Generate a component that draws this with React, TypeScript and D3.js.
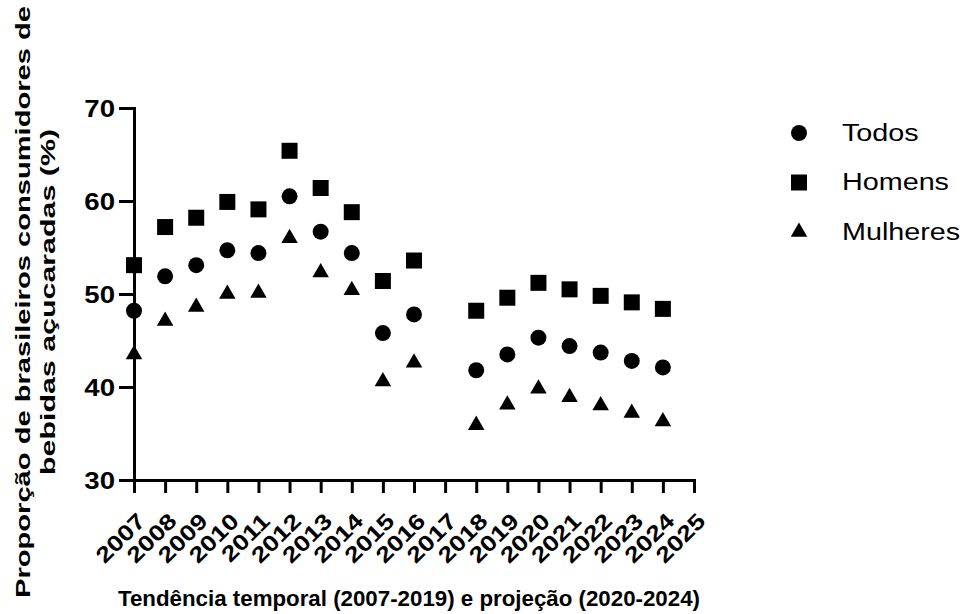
import React, { useRef, useEffect } from 'react';
import * as d3 from 'd3';

const years = [2007, 2008, 2009, 2010, 2011, 2012, 2013, 2014, 2015, 2016, 2018, 2019, 2020, 2021, 2022, 2023, 2024];
const todos = [48.2, 51.9, 53.1, 54.7, 54.4, 60.5, 56.7, 54.4, 45.8, 47.8, 41.8, 43.5, 45.3, 44.4, 43.7, 42.8, 42.1];
const homens = [53.1, 57.2, 58.2, 59.9, 59.1, 65.4, 61.4, 58.8, 51.4, 53.6, 48.2, 49.6, 51.2, 50.5, 49.8, 49.1, 48.4];
const mulheres = [43.5, 47.1, 48.6, 50.0, 50.1, 56.0, 52.3, 50.4, 40.6, 42.6, 35.9, 38.1, 39.8, 38.9, 38.0, 37.2, 36.3];

const xTicks = ['2007', '2008', '2009', '2010', '2011', '2012', '2013', '2014', '2015', '2016', '2017', '2018', '2019', '2020', '2021', '2022', '2023', '2024', '2025'];
const yTicks = [30, 40, 50, 60, 70];
const seriesNames = ['Todos', 'Homens', 'Mulheres'];

const FONT = 'Arial, "Liberation Sans", Helvetica, sans-serif';

const App = () => {
  const ref = useRef<SVGSVGElement>(null);

  useEffect(() => {
    const svg = d3.select(ref.current);
    svg.selectAll('*').remove();

    const x = d3.scaleLinear().domain([+xTicks[0], +xTicks[xTicks.length - 1]]).range([134, 694]);
    const y = d3.scaleLinear().domain([30, 70]).range([480, 108]);

    const symbols = [
      d3.symbol().type(d3.symbolCircle).size(200),
      d3.symbol().type(d3.symbolSquare).size(256),
      d3.symbol().type(d3.symbolTriangle).size(118)
    ];
    const series = [todos, homens, mulheres];

    // y axis
    const yAxis = svg.append('g')
      .attr('transform', `translate(${x.range()[0]},0)`)
      .call(d3.axisLeft(y).tickValues(yTicks).tickSize(15).tickSizeOuter(0).tickPadding(4));
    // x axis
    const xAxis = svg.append('g')
      .attr('transform', `translate(0,${y.range()[0]})`)
      .call(d3.axisBottom(x).tickValues(xTicks.map(Number)).tickFormat(d3.format('d')).tickSize(13).tickSizeOuter(0));

    [yAxis, xAxis].forEach(a => {
      a.selectAll('path, line').attr('stroke', '#000').attr('stroke-width', 3);
      a.select('.domain').attr('stroke-linecap', 'square');
    });

    yAxis.selectAll('text')
      .attr('font-family', FONT)
      .attr('font-weight', 'bold')
      .attr('font-size', 24)
      .attr('fill', '#000')
      .attr('x', null)
      .attr('dy', null)
      .attr('dominant-baseline', 'central')
      .attr('text-anchor', 'end')
      .attr('transform', 'translate(-19,0) scale(1.15,1)');

    xAxis.selectAll('text')
      .attr('font-family', FONT)
      .attr('font-weight', 'bold')
      .attr('font-size', 22)
      .attr('fill', '#000')
      .attr('y', null)
      .attr('dy', null)
      .attr('dominant-baseline', 'central')
      .attr('text-anchor', 'end')
      .attr('transform', 'translate(7,37) rotate(-45) scale(1.22,1)');

    // points
    series.forEach((vals, i) => {
      svg.append('g').selectAll('path')
        .data(vals)
        .enter().append('path')
        .attr('d', symbols[i])
        .attr('transform', (d, j) => `translate(${x(years[j])},${y(d)})`)
        .attr('fill', '#000');
    });

    // legend
    const legend = svg.append('g').attr('transform', 'translate(799,133)');
    seriesNames.forEach((name, i) => {
      const g = legend.append('g').attr('transform', `translate(0,${i * 49.5})`);
      g.append('path').attr('d', symbols[i]).attr('fill', '#000');
      g.append('text')
        .attr('font-family', FONT)
        .attr('font-size', 23)
        .attr('dominant-baseline', 'central')
        .attr('transform', 'translate(43,0) scale(1.25,1)')
        .text(name);
    });

    // titles
    svg.append('text')
      .attr('font-family', FONT)
      .attr('font-weight', 'bold')
      .attr('font-size', 22)
      .attr('text-anchor', 'middle')
      .attr('transform', 'translate(409,606)')
      .attr('textLength', 582)
      .attr('lengthAdjust', 'spacingAndGlyphs')
      .text('Tendência temporal (2007-2019) e projeção (2020-2024)');

    const yTitle = svg.append('text')
      .attr('font-family', FONT)
      .attr('font-weight', 'bold')
      .attr('font-size', 21)
      .attr('text-anchor', 'middle')
      .attr('transform', 'translate(0,302) rotate(-90)');
    yTitle.append('tspan').attr('x', 0).attr('y', 30)
      .attr('textLength', 592).attr('lengthAdjust', 'spacingAndGlyphs')
      .text('Proporção de brasileiros consumidores de');
    yTitle.append('tspan').attr('x', 0).attr('y', 55)
      .attr('textLength', 346).attr('lengthAdjust', 'spacingAndGlyphs')
      .text('bebidas açucaradas (%)');
  }, []);

  return (
    <>
      <style>{`body { margin: 0; background: #fff; }`}</style>
      <svg ref={ref} width={963} height={614} style={{ display: 'block' }} />
    </>
  );
};

export default App;
